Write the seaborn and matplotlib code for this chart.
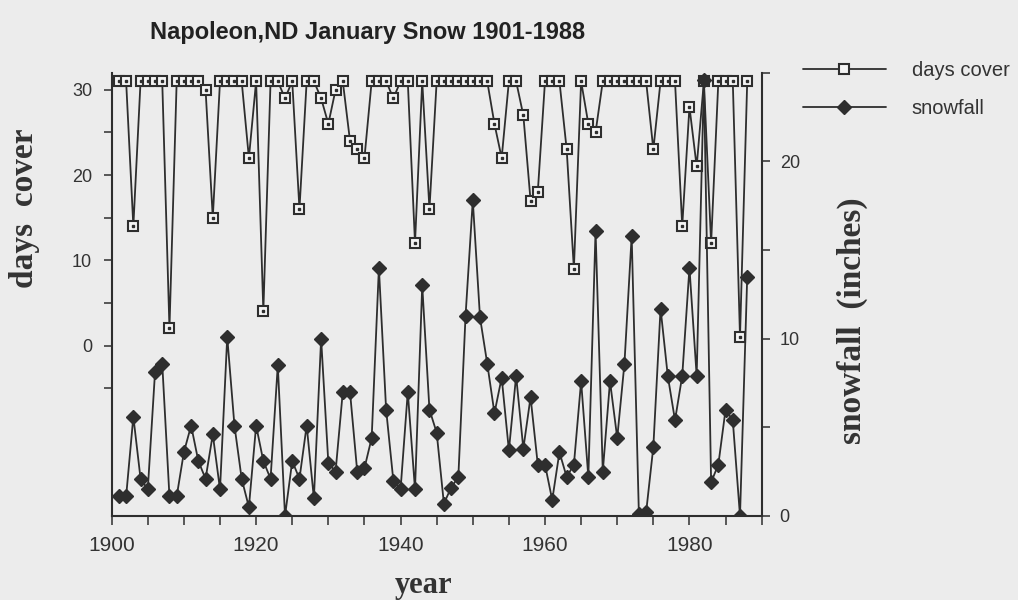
import pandas as pd
import matplotlib
matplotlib.use("Agg")
import matplotlib.pyplot as plt
from matplotlib.lines import Line2D
from matplotlib.ticker import FixedLocator
import seaborn as sns

# January data, Napoleon ND, 1901-1988
years = list(range(1901, 1989))

days_cover = [31, 31, 14, 31, 31, 31, 31, 2, 31, 31,
              31, 31, 30, 15, 31, 31, 31, 31, 22, 31,
              4, 31, 31, 29, 31, 16, 31, 31, 29, 26,
              30, 31, 24, 23, 22, 31, 31, 31, 29, 31,
              31, 12, 31, 16, 31, 31, 31, 31, 31, 31,
              31, 31, 26, 22, 31, 31, 27, 17, 18, 31,
              31, 31, 23, 9, 31, 26, 25, 31, 31, 31,
              31, 31, 31, 31, 23, 31, 31, 31, 14, 28,
              21, 31, 12, 31, 31, 31, 1, 31]

snowfall = [1.1, 1.1, 5.6, 2.1, 1.5, 8.1, 8.6, 1.1, 1.1, 3.6,
            5.1, 3.1, 2.1, 4.6, 1.5, 10.1, 5.1, 2.1, 0.5, 5.1,
            3.1, 2.1, 8.5, 0.0, 3.1, 2.1, 5.1, 1.0, 10.0, 3.0,
            2.5, 7.0, 7.0, 2.5, 2.7, 4.4, 14.0, 6.0, 2.0, 1.5,
            7.0, 1.5, 13.0, 6.0, 4.7, 0.7, 1.6, 2.2, 11.3, 17.8,
            11.2, 8.6, 5.8, 7.8, 3.7, 7.9, 3.8, 6.7, 2.9, 2.9,
            0.9, 3.6, 2.2, 2.9, 7.6, 2.2, 16.1, 2.5, 7.6, 4.4,
            8.6, 15.8, 0.1, 0.2, 3.9, 11.7, 7.9, 5.4, 7.9, 14.0,
            7.9, 24.6, 1.9, 2.9, 6.0, 5.4, 0.0, 13.5]

x_labels = [1900, 1920, 1940, 1960, 1980]
left_major = [0, 10, 20, 30]
left_minor = [-5, 5, 15, 25]
right_major = [0, 10, 20]
right_minor = [5, 15, 25]

df = pd.DataFrame({"year": years, "days cover": days_cover, "snowfall": snowfall})

ink = "#2e2e2e"
paper = "#ececec"

sns.set_style("ticks")
plt.rcParams["font.family"] = ["Liberation Sans", "DejaVu Sans"]

fig = plt.figure(figsize=(10.18, 6.0), dpi=100, facecolor=paper)
ax = fig.add_axes([0.1097, 0.14, 0.6385, 0.7388])
ax.set_facecolor(paper)
ax2 = ax.twinx()

# days cover: open squares with a dot in the middle
sns.lineplot(data=df, x="year", y="days cover", ax=ax, color=ink, linewidth=1.3,
             marker="s", markersize=7, markerfacecolor="#f4f4f4",
             markeredgecolor=ink, markeredgewidth=1.5)
ax.plot(df["year"], df["days cover"], ls="none", marker="s", ms=1.6, color=ink)

# snowfall: filled diamonds
sns.lineplot(data=df, x="year", y="snowfall", ax=ax2, color=ink, linewidth=1.3,
             marker="D", markersize=7.5, markerfacecolor=ink,
             markeredgecolor=ink, markeredgewidth=1)

ax.set_xlim(1900, 1990)
ax.set_ylim(-20, 32)
ax2.set_ylim(0, 25)

ax.set_xticks(x_labels)
ax.set_xticklabels([str(v) for v in x_labels])
ax.xaxis.set_minor_locator(FixedLocator(list(range(1905, 1991, 5))))
ax.set_yticks(left_major)
ax.yaxis.set_minor_locator(FixedLocator(left_minor))
ax2.set_yticks(right_major)
ax2.yaxis.set_minor_locator(FixedLocator(right_minor))

ax.set_xlabel("")
ax.set_ylabel("")
ax2.set_ylabel("")

for a in (ax, ax2):
    for s in a.spines.values():
        s.set_linewidth(1.5)
        s.set_color(ink)
    a.spines["top"].set_visible(False)
ax.spines["right"].set_visible(False)
ax2.spines["left"].set_visible(False)
ax2.spines["bottom"].set_visible(False)

ax.tick_params(axis="x", which="both", direction="out", length=6.5, width=1.1,
               color=ink, labelsize=15, pad=8, labelcolor="#333333")
ax.tick_params(axis="y", which="both", direction="out", length=6, width=1.1,
               color=ink, labelsize=13, pad=8, labelcolor="#333333")
ax2.tick_params(axis="y", which="both", direction="out", length=6, width=1.1,
                color=ink, labelsize=13, pad=7, labelcolor="#333333")

fig.text(368 / 1018, 1 - 32 / 600, "Napoleon,ND January Snow 1901-1988",
         ha="center", va="center", fontsize=17, fontweight="bold", color="#222222")

serif = ["Liberation Serif", "DejaVu Serif"]
fig.text(25 / 1018, 1 - 208 / 600, "days  cover", rotation=90, ha="center", va="center",
         family=serif, fontsize=24, fontweight="bold", color="#333333")
fig.text(424 / 1018, 1 - 585 / 600, "year", ha="center", va="center",
         family=serif, fontsize=22, fontweight="bold", color="#333333")
fig.text(852 / 1018, 1 - 321 / 600, "snowfall  (inches)", rotation=90, ha="center",
         va="center", family=serif, fontsize=24, fontweight="bold", color="#333333")

handles = [
    Line2D([], [], color=ink, lw=1.3, marker="s", ms=7, mfc="#f4f4f4", mec=ink, mew=1.5),
    Line2D([], [], color=ink, lw=1.3, marker="D", ms=7, mfc=ink, mec=ink),
]
fig.legend(handles, ["days cover", "snowfall"], loc="upper left",
           bbox_to_anchor=(803 / 1018, 1 - 61 / 600), frameon=False, fontsize=14.5,
           borderpad=0, borderaxespad=0, handlelength=4.1, handletextpad=1.3,
           labelspacing=0.95, numpoints=1, labelcolor="#333333")

fig.savefig("out.png", dpi=100, facecolor=paper)
